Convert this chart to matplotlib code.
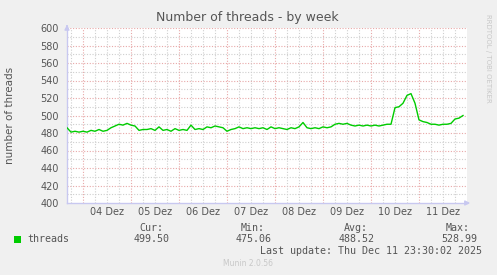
import matplotlib
matplotlib.use("Agg")
import matplotlib.pyplot as plt

# hours relative to 04 Dez 00:00, one reading every 2 hours
hours = list(range(-8, 192, 2))
threads = [486, 481, 482, 481, 482, 481, 483, 482, 484, 482,
           483, 486, 488, 490, 489, 491, 489, 488, 483, 484,
           484, 485, 483, 487, 483, 484, 482, 485, 483, 484,
           483, 489, 484, 485, 484, 487, 486, 488, 487, 486,
           482, 484, 485, 487, 485, 486, 485, 486, 485, 486,
           484, 487, 485, 486, 485, 484, 486, 485, 487, 492,
           486, 485, 486, 485, 487, 486, 487, 490, 491, 490,
           491, 489, 488, 489, 488, 489, 488, 489, 488, 489,
           490, 490, 509, 510, 514, 523, 525, 514, 495, 493,
           492, 490, 490, 489, 490, 490, 491, 496, 497, 500]
day_labels = ["04 Dez", "05 Dez", "06 Dez", "07 Dez", "08 Dez", "09 Dez", "10 Dez", "11 Dez"]
stats_names = ["Cur:", "Min:", "Avg:", "Max:"]
stats_values = ["499.50", "475.06", "488.52", "528.99"]

W, H = 497, 275
fig = plt.figure(figsize=(W / 100, H / 100), dpi=100, facecolor="#f0f0f0")
ax = fig.add_axes([67 / W, 1 - 203 / H, 400 / W, 175 / H], facecolor="white")

ax.plot(hours, threads, color="#00cc00", lw=1.0, zorder=3)

ax.set_xlim(-8, 192)
ax.set_ylim(400, 600)

# grid: red dotted majors, grey dotted minors
for y in range(410, 601, 10):
    c = "#e8a8a8" if y % 20 == 0 else "#cfcfcf"
    ax.axhline(y, color=c, lw=0.8, ls=(0, (1, 1.5)), zorder=1)
for h in range(-6, 192, 6):
    c = "#e8a8a8" if h % 24 == 0 else "#cfcfcf"
    ax.axvline(h, color=c, lw=0.8, ls=(0, (1, 1.5)), zorder=1)

ax.set_yticks(range(400, 601, 20))
ax.set_xticks([12 + 24 * i for i in range(len(day_labels))])
ax.set_xticklabels(day_labels)
ax.tick_params(axis="both", length=0, labelsize=7, labelcolor="#555555", pad=3)
ax.tick_params(axis="y", pad=6)

for s in ["top", "right"]:
    ax.spines[s].set_visible(False)
for s in ["left", "bottom"]:
    ax.spines[s].set_color("#c8c8f0")
    ax.spines[s].set_linewidth(1)

# axis arrows
ax.annotate("", xy=(0, 1.035), xytext=(0, 0.99), xycoords="axes fraction",
            arrowprops=dict(arrowstyle="-|>", color="#c8c8f0", lw=1, mutation_scale=7), annotation_clip=False)
ax.annotate("", xy=(1.015, 0), xytext=(0.99, 0), xycoords="axes fraction",
            arrowprops=dict(arrowstyle="-|>", color="#c8c8f0", lw=1, mutation_scale=7), annotation_clip=False)

fig.text(247 / W, 1 - 18 / H, "Number of threads - by week", ha="center", va="center",
         fontsize=9, color="#555555")
fig.text(10 / W, 1 - 115 / H, "number of threads", rotation=90, ha="center", va="center",
         fontsize=7.5, color="#555555")
fig.text(488 / W, 1 - 58 / H, "RRDTOOL / TOBI OETIKER", rotation=270, ha="center", va="center",
         fontsize=5, color="#c8c8c8")

mono = "DejaVu Sans Mono"
fig.patches.append(plt.Rectangle((14 / W, 1 - 243 / H), 7 / W, 7 / H, transform=fig.transFigure,
                                 facecolor="#00cc00", edgecolor="none"))
fig.text(27 / W, 1 - 239.5 / H, "threads", family=mono, fontsize=7.2, color="#555555", va="center")
name_right = [163, 265, 368, 470]
val_right = [170, 272, 375, 477]
for n, v, xn, xv in zip(stats_names, stats_values, name_right, val_right):
    fig.text(xn / W, 1 - 228 / H, n, family=mono, fontsize=7.2, color="#555555", ha="right", va="center")
    fig.text(xv / W, 1 - 239.5 / H, v, family=mono, fontsize=7.2, color="#555555", ha="right", va="center")
fig.text(482 / W, 1 - 251 / H, "Last update: Thu Dec 11 23:30:02 2025", family=mono, fontsize=7.2,
         color="#555555", ha="right", va="center")
fig.text(248 / W, 1 - 263 / H, "Munin 2.0.56", fontsize=5.5, color="#c8c8c8", ha="center", va="center")

fig.savefig("out.png", dpi=100, facecolor=fig.get_facecolor())
